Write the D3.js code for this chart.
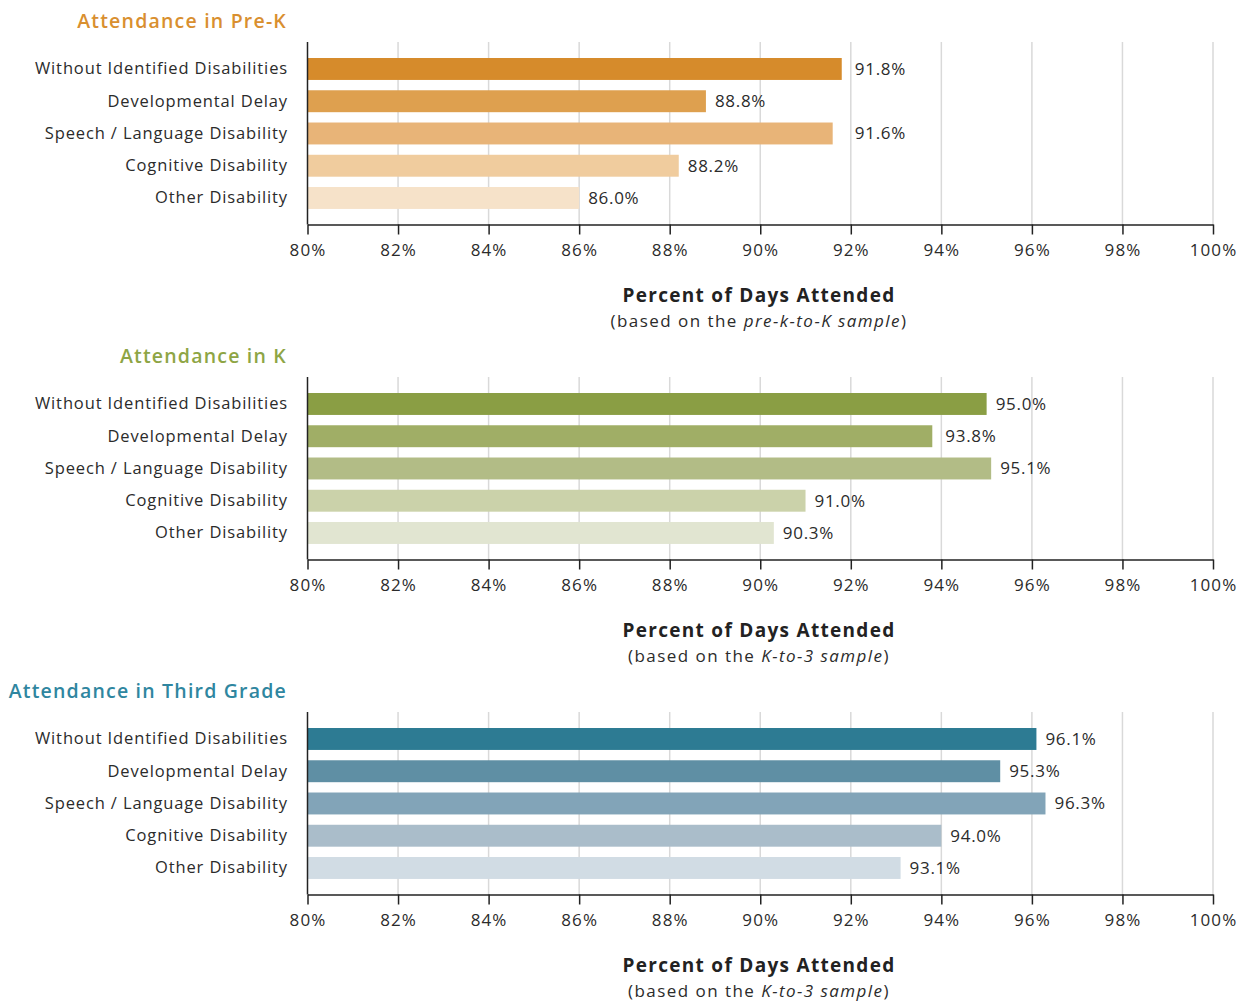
<!DOCTYPE html>
<html>
<head>
<meta charset="utf-8">
<script src="https://cdn.jsdelivr.net/npm/d3@7"></script>
<style>
  html, body { margin: 0; padding: 0; background: #fff; }
  svg { display: block; }
  text { font-family: "Open Sans", "Noto Sans", sans-serif; }
</style>
</head>
<body>
<script>
// Attendance categories (same for every panel)
const categories = [
  "Without Identified Disabilities",
  "Developmental Delay",
  "Speech / Language Disability",
  "Cognitive Disability",
  "Other Disability"
];

// Percent of days attended, per grade
const preKValues  = [91.8, 88.8, 91.6, 88.2, 86.0];
const kValues     = [95.0, 93.8, 95.1, 91.0, 90.3];
const thirdValues = [96.1, 95.3, 96.3, 94.0, 93.1];

const panelTitles = ["Attendance in Pre-K", "Attendance in K", "Attendance in Third Grade"];
const sampleNames = ["pre-k-to-K sample", "K-to-3 sample", "K-to-3 sample"];

const tickValues = [80, 82, 84, 86, 88, 90, 92, 94, 96, 98, 100];

// Colour ramps, darkest first
const preKColors  = ["#d68b2b", "#dea04f", "#e8b478", "#f0cc9e", "#f6e2c9"];
const kColors     = ["#8a9e44", "#a0ae66", "#b2bc86", "#cbd2aa", "#e1e5d1"];
const thirdColors = ["#2d7b93", "#5f8fa4", "#82a4b8", "#aabdca", "#d1dce4"];
const titleColors = ["#d98f2f", "#8ea545", "#2f86a0"];

const panels = [
  { title: panelTitles[0], values: preKValues,  colors: preKColors,  titleColor: titleColors[0], sample: sampleNames[0] },
  { title: panelTitles[1], values: kValues,     colors: kColors,     titleColor: titleColors[1], sample: sampleNames[1] },
  { title: panelTitles[2], values: thirdValues, colors: thirdColors, titleColor: titleColors[2], sample: sampleNames[2] }
];

const W = 1244, H = 1001;
const svg = d3.select("body").append("svg").attr("width", W).attr("height", H);

const x = d3.scaleLinear().domain([80, 100]).range([307.5, 1213]);
const panelStep = 335;
const plotTop = 42, axisY = 224.5;

const y = d3.scaleBand()
  .domain(categories)
  .range([52.85, 214.1])
  .paddingInner(0.32)
  .paddingOuter(0.16);

panels.forEach((p, i) => {
  const g = svg.append("g").attr("transform", `translate(0,${i * panelStep})`);

  // Panel title
  g.append("text")
    .attr("x", 287).attr("y", 28)
    .attr("text-anchor", "end")
    .attr("fill", p.titleColor)
    .attr("font-size", 19.5).attr("font-weight", 600)
    .attr("letter-spacing", 1.2)
    .text(p.title);

  // Vertical gridlines
  g.append("g").selectAll("line")
    .data(tickValues.slice(1))
    .join("line")
    .attr("x1", d => x(d)).attr("x2", d => x(d))
    .attr("y1", plotTop).attr("y2", axisY)
    .attr("stroke", "#d9d9d9").attr("stroke-width", 1.5);

  // Bars
  g.append("g").selectAll("rect")
    .data(categories)
    .join("rect")
    .attr("x", x(80))
    .attr("y", d => y(d))
    .attr("width", (d, k) => x(p.values[k]) - x(80))
    .attr("height", y.bandwidth())
    .attr("fill", (d, k) => p.colors[k]);

  // Category labels
  g.append("g").selectAll("text")
    .data(categories)
    .join("text")
    .attr("x", 288)
    .attr("y", d => y(d) + y.bandwidth() / 2)
    .attr("dy", "0.33em")
    .attr("text-anchor", "end")
    .attr("fill", "#2b2b2b")
    .attr("font-size", 16.5)
    .attr("letter-spacing", 0.87)
    .text(d => d);

  // Value labels; nudged past a gridline that sits just after the bar end
  g.append("g").selectAll("text")
    .data(categories)
    .join("text")
    .attr("x", (d, k) => {
      const end = x(p.values[k]);
      const grid = tickValues.map(x).find(gx => gx > end && gx - end < 22);
      return grid !== undefined ? grid + 4 : end + 9;
    })
    .attr("y", d => y(d) + y.bandwidth() / 2)
    .attr("dy", "0.35em")
    .attr("fill", "#2b2b2b")
    .attr("font-size", 17)
    .attr("letter-spacing", 0.7)
    .text((d, k) => d3.format(".1f")(p.values[k]) + "%");

  // Left axis line
  g.append("line")
    .attr("x1", x(80)).attr("x2", x(80))
    .attr("y1", plotTop).attr("y2", axisY)
    .attr("stroke", "#222").attr("stroke-width", 1.5);

  // Bottom axis
  const axis = d3.axisBottom(x)
    .tickValues(tickValues)
    .tickSize(10)
    .tickSizeOuter(0)
    .tickPadding(9)
    .tickFormat(d => d + "%");
  const ag = g.append("g").attr("transform", `translate(0,${axisY})`).call(axis);
  ag.select(".domain").attr("stroke", "#222").attr("stroke-width", 1.5);
  ag.selectAll(".tick line").attr("stroke", "#222").attr("stroke-width", 1.5);
  ag.selectAll(".tick text")
    .attr("fill", "#2b2b2b")
    .attr("font-size", 17)
    .attr("font-family", "'Open Sans', 'Noto Sans', sans-serif")
    .attr("letter-spacing", 1.1);

  // Axis title
  g.append("text")
    .attr("x", 759).attr("y", 302)
    .attr("text-anchor", "middle")
    .attr("fill", "#222")
    .attr("font-size", 19).attr("font-weight", 700)
    .attr("letter-spacing", 1.3)
    .text("Percent of Days Attended");

  const sub = g.append("text")
    .attr("x", 759).attr("y", 327)
    .attr("text-anchor", "middle")
    .attr("fill", "#2b2b2b")
    .attr("font-size", 17)
    .attr("letter-spacing", 1.45);
  sub.append("tspan").text("(based on the ");
  sub.append("tspan").attr("font-style", "italic").text(p.sample);
  sub.append("tspan").text(")");
});
</script>
</body>
</html>
